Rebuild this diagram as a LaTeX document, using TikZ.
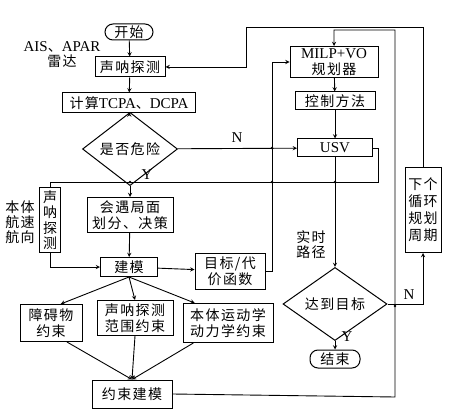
\documentclass[tikz,border=0pt]{standalone}
\usepackage{fontspec}
\setmainfont{Liberation Serif}
\newfontfamily\cjk[LetterSpace=10]{Noto Sans CJK SC}
\usetikzlibrary{shapes,arrows,positioning,calc}
\newcommand{\lat}[1]{{\rmfamily\fontsize{15pt}{16pt}\selectfont #1}}

\begin{document}
\begin{tikzpicture}[
    x=1pt, y=-1pt,
    box/.style={rectangle, draw, line width=1pt, inner sep=0pt, align=center, font=\cjk\fontsize{14pt}{16.5pt}\selectfont},
    term/.style={box, rounded corners=8pt},
    decision/.style={diamond, draw, line width=1pt, inner sep=0pt, align=center, font=\cjk\fontsize{14pt}{16pt}\selectfont},
    txt/.style={align=center, inner sep=0pt, font=\cjk\fontsize{14pt}{15pt}\selectfont},
    arrow/.style={->, >=stealth, line width=0.9pt},
    line/.style={line width=0.9pt},
    jdot/.style={circle, fill, inner sep=0pt, minimum size=2.6pt}
]
\useasboundingbox (0,0) rectangle (450,417);

\node[term, minimum width=48pt, minimum height=16pt] (start) at (129,32) {开始};
\node[box, minimum width=70pt, minimum height=20pt] (sonar) at (130,67) {声呐探测};
\node[txt] (ais) at (62,55) {\lat{AIS}、\lat{APAR}\\雷达};
\node[box, minimum width=133pt, minimum height=20pt] (tcpa) at (129,103) {计算\lat{TCPA}、\lat{DCPA}};
\node[decision, minimum width=95pt, minimum height=42pt] (danger) at (130,149) {是否危险};

\node[box, minimum width=88pt, minimum height=31pt] (milp) at (334,62) {\lat{MILP+VO}\\规划器};
\node[box, minimum width=80pt, minimum height=18pt] (ctrl) at (335,101) {控制方法};
\node[box, minimum width=75pt, minimum height=18pt] (usv) at (335,148) {\lat{USV}};

\node[box, minimum width=86pt, minimum height=35pt] (encounter) at (130,215) {会遇局面\\划分、决策};
\node[box, minimum width=21pt, minimum height=64pt, font=\cjk\fontsize{14pt}{15.5pt}\selectfont] (vsonar) at (50,220) {声\\呐\\探\\测};
\node[txt] (self) at (20,222) {本体\\航速\\航向};
\node[box, minimum width=57pt, minimum height=19pt] (model) at (129,267) {建模};
\node[box, minimum width=70pt, minimum height=36pt] (cost) at (230,271) {目标/代\\价函数};

\node[box, minimum width=62pt, minimum height=37pt] (obst) at (51,323) {障碍物\\约束};
\node[box, minimum width=76pt, minimum height=35pt] (range) at (135,318) {声呐探测\\范围约束};
\node[box, minimum width=90pt, minimum height=39pt] (dyn) at (228,323) {本体运动学\\动力学约束};
\node[box, minimum width=80pt, minimum height=28pt] (cmodel) at (132,394) {约束建模};

\node[decision, minimum width=104pt, minimum height=46pt] (reach) at (335,304) {达到目标};
\node[term, minimum width=50pt, minimum height=18pt] (finish) at (335,359) {结束};
\node[box, minimum width=36pt, minimum height=85pt, font=\cjk\fontsize{14pt}{17pt}\selectfont] (next) at (423,210) {下个\\循环\\规划\\周期};
\node[txt] (path) at (311,245) {实时\\路径};

% labels
\node[txt, font=\rmfamily\fontsize{15pt}{16pt}\selectfont] (ylab1) at (147,175) {Y};
\node[txt, font=\rmfamily\fontsize{15pt}{16pt}\selectfont] (nlab1) at (237,138) {N};
\node[txt, font=\rmfamily\fontsize{15pt}{16pt}\selectfont] (ylab2) at (347,337) {Y};
\node[txt, font=\rmfamily\fontsize{15pt}{16pt}\selectfont] (nlab2) at (409,295) {N};

% junctions
\coordinate (jx) at (272,148);
\coordinate (jy) at (272,182);
\coordinate (jz) at (335,182);
\coordinate (jw) at (130,182);
\coordinate (jr) at (395,306);
\foreach \j in {jx,jy,jz,jw,jr} \node[jdot] at (\j) {};

\draw[arrow] (start) -- (sonar);
\draw[arrow] (sonar) -- (tcpa);
\draw[arrow] (tcpa) -- (danger);
\draw[arrow] (danger) -- (encounter);
\draw[arrow] (danger) -- (usv);
\draw[arrow] (milp) -- (ctrl);
\draw[arrow] (ctrl) -- (usv);
\draw[line] (usv.east) -- (378,148) -- (378,182) -| (vsonar.north);
\draw[arrow] (vsonar.south) |- (model.west);
\draw[arrow] (encounter) -- (model);
\draw[arrow] (model) -- (cost);
\draw[arrow] (cost.east) -- (272,271) |- (milp.west);
\draw[arrow] (model.south) -- (obst.63);
\draw[arrow] (model.south) -- (range.north);
\draw[arrow] (model.south) -- (dyn.149);
\draw[arrow] (obst.-50) -- (cmodel.north);
\draw[arrow] (range.south) -- (cmodel.north);
\draw[arrow] (dyn.-150) -- (cmodel.north);
\draw[arrow] (cmodel.east) -- (395,397) -- (395,30) -| (milp.north);
\draw[arrow] (usv) -- (reach);
\draw[arrow] (reach) -- (finish);
\draw[arrow] (reach.east) -| (next.south);
\draw[arrow] (next.north) |- (246,27) |- (sonar.east);

\end{tikzpicture}
\end{document}
